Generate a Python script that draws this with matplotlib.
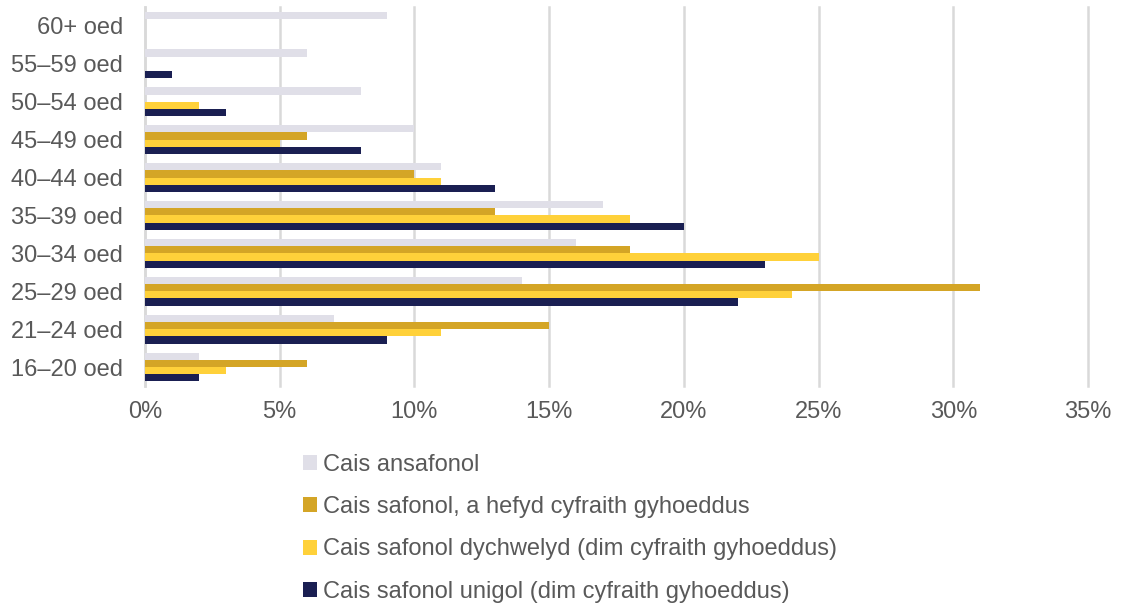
import numpy as np
import matplotlib
matplotlib.use('Agg')
import matplotlib.pyplot as plt
from matplotlib.patches import Patch

# age groups, bottom to top
ages = ['16–20 oed', '21–24 oed', '25–29 oed', '30–34 oed', '35–39 oed',
        '40–44 oed', '45–49 oed', '50–54 oed', '55–59 oed', '60+ oed']

# percentages for each series
ansafonol = [2, 7, 14, 16, 17, 11, 10, 8, 6, 9]
safonol_cyfraith = [6, 15, 31, 18, 13, 10, 6, 0, 0, 0]
safonol_dychwelyd = [3, 11, 24, 25, 18, 11, 5, 2, 0, 0]
safonol_unigol = [2, 9, 22, 23, 20, 13, 8, 3, 1, 0]

series_names = ['Cais ansafonol',
                'Cais safonol, a hefyd cyfraith gyhoeddus',
                'Cais safonol dychwelyd (dim cyfraith gyhoeddus)',
                'Cais safonol unigol (dim cyfraith gyhoeddus)']
colours = ['#e0dfe8', '#d4a526', '#ffd13a', '#1a1f52']

text_col = '#595959'
fs = 17
plt.rcParams['font.family'] = ['Liberation Sans', 'DejaVu Sans']
plt.rcParams['font.size'] = fs

fig = plt.figure(figsize=(11.23, 6.05), dpi=100)
ax = fig.add_axes([145 / 1123, 1 - 386 / 605, (1088 - 145) / 1123, (386 - 7) / 605])

y = np.arange(len(ages))
h = 0.19
all_series = [ansafonol, safonol_cyfraith, safonol_dychwelyd, safonol_unigol]
offsets = [1.5 * h, 0.5 * h, -0.5 * h, -1.5 * h]
for vals, off, col in zip(all_series, offsets, colours):
    ax.barh(y + off, vals, height=h, color=col, zorder=3)

ax.set_xlim(0, 35)
ax.set_ylim(-0.5, len(ages) - 0.5)
ax.set_xticks(range(0, 36, 5))
ax.set_xticklabels([f'{v}%' for v in range(0, 36, 5)])
ax.set_yticks(y)
ax.set_yticklabels(ages)
ax.tick_params(length=0, colors=text_col, labelsize=fs)
ax.tick_params(axis='x', pad=11)
ax.tick_params(axis='y', pad=16)

ax.grid(axis='x', color='#d9d9d9', linewidth=1.8, zorder=0)
for gl in ax.get_xgridlines():
    gl.set_clip_on(False)
for s in ['top', 'right', 'bottom']:
    ax.spines[s].set_visible(False)
ax.spines['left'].set_color('#d9d9d9')
ax.spines['left'].set_linewidth(1.8)

handles = [Patch(facecolor=c, edgecolor='none') for c in colours]
fig.legend(handles, series_names, loc='upper left', bbox_to_anchor=(291 / 1123, 1 - 442 / 605),
           frameon=False, fontsize=fs, labelcolor=text_col, handlelength=0.6,
           handleheight=0.6, handletextpad=0.25, labelspacing=0.86, borderpad=0)

fig.savefig('out.png', dpi=100)
